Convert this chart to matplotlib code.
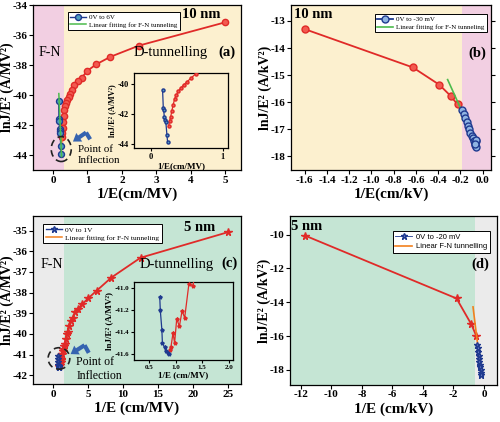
import matplotlib
matplotlib.use('Agg')
import matplotlib.pyplot as plt
from matplotlib.patches import Ellipse

plt.rcParams['font.family'] = ['Liberation Serif', 'DejaVu Serif']
plt.rcParams['axes.unicode_minus'] = False

# ---------------- data ----------------
# (a) 10 nm, 0V to 6V
a_red_x = [5.0, 2.5, 1.667, 1.25, 1.0, 0.833, 0.714, 0.625, 0.556, 0.5, 0.455, 0.417,
           0.385, 0.357, 0.333, 0.3125, 0.294, 0.278, 0.263, 0.25]
a_red_y = [-35.15, -36.7, -37.45, -37.96, -38.38, -38.85, -39.05, -39.35, -39.65, -39.9,
           -40.1, -40.3, -40.5, -40.75, -41.0, -41.4, -41.8, -42.2, -42.5, -42.8]
a_blue_x = [0.165, 0.175, 0.18, 0.19, 0.2, 0.21, 0.225, 0.235]
a_blue_y = [-40.4, -41.6, -41.75, -42.25, -42.4, -42.55, -43.4, -43.9]
a_fit_x = [0.17, 0.25]
a_fit_y = [-39.9, -44.1]
a_orange_x = [0.26, 0.25]
a_orange_y = [-42.6, -43.3]

# (b) 10 nm, 0V to -30 mV
b_red_x = [-1.6, -0.627, -0.39, -0.289, -0.226]
b_red_y = [-13.3, -14.72, -15.36, -15.77, -16.09]
b_blue_x = [-0.19, -0.17, -0.155, -0.14, -0.13, -0.12, -0.11, -0.1, -0.09, -0.08,
            -0.07, -0.065, -0.06, -0.058, -0.062, -0.068]
b_blue_y = [-16.3, -16.45, -16.6, -16.75, -16.9, -17.0, -17.15, -17.25, -17.35, -17.45,
            -17.5, -17.6, -17.65, -17.45, -17.4, -17.55]
b_fit_x = [-0.315, -0.07]
b_fit_y = [-15.17, -17.4]

# (c) 5 nm, 0V to 1V
c_red_x = [25.0, 12.5, 8.33, 6.25, 5.0, 4.17, 3.57, 3.13, 2.78, 2.5, 2.27, 2.08, 1.92,
           1.79, 1.67, 1.56, 1.47, 1.39, 1.32, 1.25, 1.17, 1.12, 1.07, 1.02, 0.98, 0.95,
           0.91, 0.885]
c_red_y = [-35.07, -36.31, -37.27, -37.9, -38.28, -38.56, -38.77, -38.96, -39.25, -39.37,
           -39.6, -39.9, -40.0, -40.25, -40.5, -40.6, -40.74, -40.85, -40.98, -40.96,
           -41.27, -41.21, -41.35, -41.28, -41.5, -41.41, -41.54, -41.56]
c_blue_x = [0.70, 0.71, 0.74, 0.75, 0.79, 0.82, 0.86, 0.875]
c_blue_y = [-41.08, -41.2, -41.38, -41.5, -41.54, -41.57, -41.59, -41.6]
c_fit_x = [0.68, 0.88]
c_fit_y = [-41.0, -41.6]

# (d) 5 nm, 0V to -20 mV
d_red_x = [-11.7, -1.8, -0.83, -0.5]
d_red_y = [-10.06, -13.77, -15.3, -16.0]
d_blue_x = [-0.45, -0.42, -0.38, -0.35, -0.32, -0.3, -0.27, -0.25, -0.22, -0.2, -0.18]
d_blue_y = [-16.5, -16.7, -16.95, -17.15, -17.35, -17.5, -17.7, -17.85, -18.0, -18.15, -18.3]
d_fit_x = [-0.72, -0.17]
d_fit_y = [-14.27, -18.3]

# ---------------- style ----------------
PINK = '#f2cfe2'
BEIGE = '#fcf0cf'
MINT = '#c5e5d4'
GRAY = '#ebebeb'
RED = '#e02a28'
NAVY = '#1f3a8f'
GREEN = '#4cbb4c'
ORANGE = '#f2801e'
ARROW = '#3563b0'

fig = plt.figure(figsize=(5.0, 4.22), dpi=100)


def style_axes(ax, lab=8, right_ticks=False):
    ax.tick_params(direction='out', length=3, width=0.8, labelsize=lab, pad=1.0,
                   right=right_ticks)
    for lbl in ax.get_xticklabels() + ax.get_yticklabels():
        lbl.set_fontweight('bold')
    for s in ax.spines.values():
        s.set_linewidth(0.9)


def chevron(ax, pts):
    (x0, y0), (x1, y1), (x2, y2) = pts
    ax.plot([x0, x1], [y0, y1], color=ARROW, lw=3.0, solid_capstyle='butt', zorder=6)
    ax.annotate('', xy=(x2, y2), xytext=(x1, y1),
                arrowprops=dict(arrowstyle='simple,head_length=0.55,head_width=0.75,tail_width=0.3',
                                mutation_scale=10, color=ARROW, lw=0, shrinkA=0, shrinkB=0),
                zorder=6)


YL = 10
YPAD = -1.0

# ---------------- (a) ----------------
axA = fig.add_axes([0.066, 0.597, 0.416, 0.391])
axA.set_xlim(-0.58, 5.46)
axA.set_ylim(-45, -34)
axA.set_facecolor(BEIGE)
axA.axvspan(-0.58, 0.32, color=PINK, lw=0, zorder=0)
axA.plot(a_red_x, a_red_y, '-o', color=RED, mfc='#f25a50', mec=RED, ms=4.5, lw=1.3, zorder=3)
axA.plot(a_orange_x, a_orange_y, '-', color=ORANGE, lw=1.3, zorder=3)
axA.plot(a_blue_x, a_blue_y, '-o', color=NAVY, mfc='#4f9ec0', mec=NAVY, ms=4.3, lw=1.0,
         zorder=4, label='0V to 6V')
axA.plot(a_fit_x, a_fit_y, '-', color=GREEN, lw=1.1, zorder=4, label='Linear fitting for F-N tunneling')
axA.set_xticks([0, 1, 2, 3, 4, 5])
axA.set_yticks([-44, -42, -40, -38, -36, -34])
axA.set_xlabel('1/E(cm/MV)', fontsize=11, fontweight='bold', labelpad=2)
axA.set_ylabel('lnJ/E² (A/MV²)', fontsize=YL, fontweight='bold', labelpad=YPAD)
style_axes(axA)
axA.add_patch(Ellipse((0.24, -43.6), 0.58, 1.66, fill=False, ls=(0, (4, 2.5)), lw=1.2,
                      ec='#222222', zorder=5))
chevron(axA, [(1.08, -42.95), (0.96, -42.5), (0.58, -43.1)])
axA.text(0.72, -44.0, 'Point of\nInflection', fontsize=7.8, va='center', ha='left', linespacing=1.25)
axA.text(0.81, 0.94, '10 nm', transform=axA.transAxes, fontsize=10.5, fontweight='bold',
         ha='center', va='center')
axA.text(0.93, 0.715, '(a)', transform=axA.transAxes, fontsize=10.5, fontweight='bold',
         ha='center', va='center')
axA.text(0.08, 0.71, 'F-N', transform=axA.transAxes, fontsize=10, ha='center', va='center')
axA.text(0.66, 0.71, 'D-tunnelling', transform=axA.transAxes, fontsize=10.5, ha='center', va='center')
legA = axA.legend(loc='upper left', bbox_to_anchor=(0.168, 0.958), fontsize=5,
                  frameon=True, fancybox=False, edgecolor='black', framealpha=1,
                  handlelength=2.2, borderpad=0.35, labelspacing=0.25, handletextpad=0.5,
                  borderaxespad=0)
legA.get_frame().set_linewidth(0.7)

# inset (a)
insA = fig.add_axes([0.268, 0.649, 0.188, 0.178])
insA.set_facecolor(BEIGE)
insA.plot(a_red_x, a_red_y, '-o', color=RED, mfc='#f25a50', mec=RED, ms=2.2, lw=0.9, zorder=3)
insA.plot(a_blue_x, a_blue_y, '-o', color=NAVY, mfc='#4f9ec0', mec=NAVY, ms=2.2, lw=0.9, zorder=4)
insA.set_xlim(-0.23, 1.07)
insA.set_ylim(-44.3, -39.3)
insA.set_xticks([0, 1])
insA.set_yticks([-44, -42, -40])
insA.set_xlabel('1/E(cm/MV)', fontsize=6.5, fontweight='bold', labelpad=1)
insA.set_ylabel('lnJ/E² (A/MV²)', fontsize=5.9, fontweight='bold', labelpad=1)
style_axes(insA, lab=6)
insA.tick_params(length=2, pad=1.5)

# ---------------- (b) ----------------
axB = fig.add_axes([0.582, 0.597, 0.40, 0.391])
axB.set_xlim(-1.723, 0.075)
axB.set_ylim(-18.52, -12.41)
axB.set_facecolor(BEIGE)
axB.axvspan(-0.183, 0.075, color=PINK, lw=0, zorder=0)
axB.plot(b_red_x, b_red_y, '-o', color=RED, mfc='#f25a50', mec=RED, ms=5, lw=1.3, zorder=3)
axB.plot(b_blue_x, b_blue_y, '-o', color=NAVY, mfc='#8fb4e2', mec=NAVY, ms=5, lw=1.3,
         zorder=4, label='0V to -30 mV')
axB.plot(b_fit_x, b_fit_y, '-', color=GREEN, lw=1.2, zorder=3.5, label='Linear fitting for F-N tunneling')
axB.set_xticks([-1.6, -1.4, -1.2, -1.0, -0.8, -0.6, -0.4, -0.2, 0.0])
axB.set_xticklabels(['-1.6', '-1.4', '-1.2', '-1.0', '-0.8', '-0.6', '-0.4', '-0.2', '0.0'])
axB.set_yticks([-18, -17, -16, -15, -14, -13])
axB.set_xlabel('1/E(cm/kV)', fontsize=11, fontweight='bold', labelpad=2)
axB.set_ylabel('lnJ/E² (A/kV²)', fontsize=YL, fontweight='bold', labelpad=YPAD)
style_axes(axB, right_ticks=True)
axB.text(0.11, 0.94, '10 nm', transform=axB.transAxes, fontsize=10.5, fontweight='bold',
         ha='center', va='center')
axB.text(0.93, 0.71, '(b)', transform=axB.transAxes, fontsize=10.5, fontweight='bold',
         ha='center', va='center')
legB = axB.legend(loc='upper right', bbox_to_anchor=(0.98, 0.945), fontsize=5,
                  frameon=True, fancybox=False, edgecolor='black', framealpha=1,
                  handlelength=2.2, borderpad=0.35, labelspacing=0.25, handletextpad=0.5,
                  borderaxespad=0)
legB.get_frame().set_linewidth(0.7)

# ---------------- (c) ----------------
axC = fig.add_axes([0.066, 0.090, 0.416, 0.398])
axC.set_xlim(-2.87, 26.86)
axC.set_ylim(-42.43, -34.29)
axC.set_facecolor(MINT)
axC.axvspan(-2.87, 1.53, color=GRAY, lw=0, zorder=0)
axC.plot(c_red_x, c_red_y, '-*', color=RED, mfc=RED, mec=RED, ms=5.5, lw=1.3, zorder=3)
axC.plot(c_blue_x, c_blue_y, '-*', color=NAVY, mfc='#4a62b5', mec=NAVY, ms=4.5, lw=1.0,
         zorder=4, label='0V to 1V')
axC.plot(c_fit_x, c_fit_y, '-', color=ORANGE, lw=1.1, zorder=3.5, label='Linear fitting for F-N tunneling')
axC.set_xticks([0, 5, 10, 15, 20, 25])
axC.set_yticks([-42, -41, -40, -39, -38, -37, -36, -35])
axC.set_xlabel('1/E (cm/MV)', fontsize=11, fontweight='bold', labelpad=2)
axC.set_ylabel('lnJ/E² (A/MV²)', fontsize=YL, fontweight='bold', labelpad=YPAD)
style_axes(axC)
axC.add_patch(Ellipse((0.84, -41.19), 3.1, 1.04, fill=False, ls=(0, (4, 2.5)), lw=1.2,
                      ec='#222222', zorder=5))
chevron(axC, [(5.1, -40.92), (4.5, -40.55), (2.5, -40.98)])
axC.text(3.3, -41.72, 'Point of\nInflection', fontsize=8.5, va='center', ha='left', linespacing=1.2)
axC.text(0.80, 0.93, '5 nm', transform=axC.transAxes, fontsize=10.5, fontweight='bold',
         ha='center', va='center')
axC.text(0.947, 0.72, '(c)', transform=axC.transAxes, fontsize=10.5, fontweight='bold',
         ha='center', va='center')
axC.text(0.09, 0.714, 'F-N', transform=axC.transAxes, fontsize=10, ha='center', va='center')
axC.text(0.69, 0.714, 'D-tunnelling', transform=axC.transAxes, fontsize=10.5, ha='center', va='center')
legC = axC.legend(loc='upper left', bbox_to_anchor=(0.048, 0.952), fontsize=5.3,
                  frameon=True, fancybox=False, edgecolor='black', framealpha=1,
                  handlelength=2.2, borderpad=0.35, labelspacing=0.25, handletextpad=0.5,
                  borderaxespad=0)
legC.get_frame().set_linewidth(0.7)

# inset (c)
insC = fig.add_axes([0.268, 0.147, 0.198, 0.185])
insC.set_facecolor(MINT)
insC.plot(c_red_x, c_red_y, '-*', color=RED, mfc=RED, mec=RED, ms=2.8, lw=0.9, zorder=3)
insC.plot(c_blue_x, c_blue_y, '-*', color=NAVY, mfc='#4a62b5', mec=NAVY, ms=2.8, lw=0.9, zorder=4)
insC.set_xlim(0.215, 2.08)
insC.set_ylim(-41.655, -40.945)
insC.set_xticks([0.5, 1.0, 1.5, 2.0])
insC.set_xticklabels(['0.5', '1.0', '1.5', '2.0'])
insC.set_yticks([-41.6, -41.4, -41.2, -41.0])
insC.set_yticklabels(['-41.6', '-41.4', '-41.2', '-41.0'])
insC.set_xlabel('1/E (cm/MV)', fontsize=6.5, fontweight='bold', labelpad=1)
insC.set_ylabel('lnJ/E² (A/MV²)', fontsize=6.5, fontweight='bold', labelpad=1)
style_axes(insC, lab=5)
insC.tick_params(length=2, pad=1.5)

# ---------------- (d) ----------------
axD = fig.add_axes([0.58, 0.088, 0.414, 0.400])
axD.set_xlim(-12.70, 0.85)
axD.set_ylim(-18.88, -8.9)
axD.set_facecolor(GRAY)
axD.axvspan(-12.70, -0.61, color=MINT, lw=0, zorder=0)
axD.plot(d_red_x, d_red_y, '-*', color=RED, mfc=RED, mec=RED, ms=5.5, lw=1.3, zorder=3)
axD.plot(d_blue_x, d_blue_y, '-*', color=NAVY, mfc='#6a7ec8', mec=NAVY, ms=4.5, lw=0.6,
         zorder=4, label='0V to -20 mV')
axD.plot(d_fit_x, d_fit_y, '-', color=ORANGE, lw=1.2, zorder=3.5, label='Linear F-N tunnelling')
axD.set_xticks([-12, -10, -8, -6, -4, -2, 0])
axD.set_yticks([-18, -16, -14, -12, -10])
axD.set_xlabel('1/E (cm/kV)', fontsize=11, fontweight='bold', labelpad=2)
axD.set_ylabel('lnJ/E² (A/kV²)', fontsize=YL, fontweight='bold', labelpad=YPAD)
style_axes(axD)
axD.text(0.082, 0.94, '5 nm', transform=axD.transAxes, fontsize=10.5, fontweight='bold',
         ha='center', va='center')
axD.text(0.918, 0.716, '(d)', transform=axD.transAxes, fontsize=10.5, fontweight='bold',
         ha='center', va='center')
legD = axD.legend(loc='upper right', bbox_to_anchor=(0.966, 0.911),
                  prop={'family': ['Liberation Sans', 'DejaVu Sans'], 'size': 5.5},
                  frameon=True, fancybox=False, edgecolor='black', framealpha=1,
                  handlelength=2.2, borderpad=0.35, labelspacing=0.25, handletextpad=0.5,
                  borderaxespad=0)
legD.get_frame().set_linewidth(0.7)

fig.savefig('out.png', dpi=100)
